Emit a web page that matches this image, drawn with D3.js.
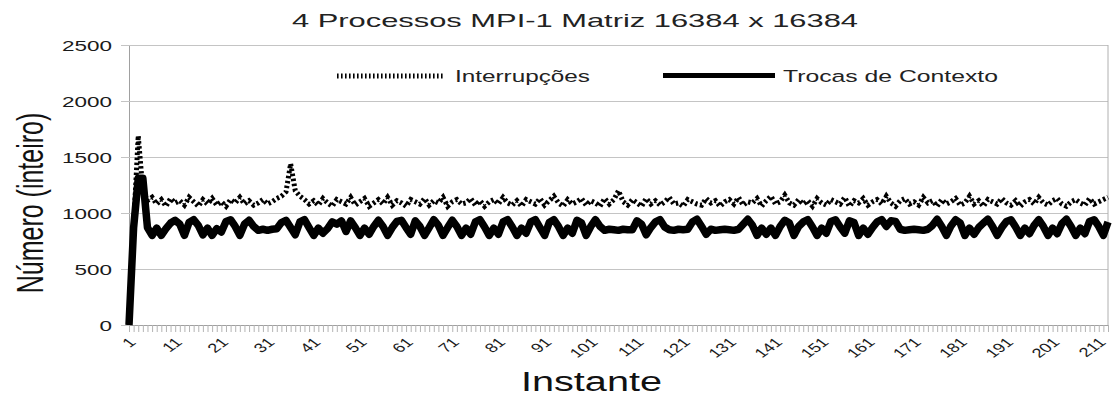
<!DOCTYPE html>
<html>
<head>
<meta charset="utf-8">
<script src="https://cdn.jsdelivr.net/npm/d3@7"></script>
<style>
    body { margin: 0; background: #fff; }
    svg { display: block; font-family: 'Liberation Sans', Arial, sans-serif; }
</style>
</head>
<body>
<svg id="chart" width="1113" height="398"></svg>
<script>
const TITLE = '4 Processos MPI-1 Matriz 16384 x 16384';
const SERIES_NAMES = ['Interrupções', 'Trocas de Contexto'];
const Y_TICKS = [0, 500, 1000, 1500, 2000, 2500];

// instants 1..213
const instants = d3.range(1, 214);

const interrupcoes = [
    0, 880, 1690, 1200, 1110, 1140, 1080, 1120, 1060, 1130,
    1090, 1110, 1070, 1140, 1100, 1060, 1120, 1080, 1130, 1070,
    1100, 1060, 1120, 1090, 1140, 1080, 1110, 1070, 1090, 1120,
    1080, 1100, 1130, 1150, 1190, 1440, 1200, 1150, 1120, 1080,
    1110, 1070, 1130, 1090, 1060, 1120, 1100, 1080, 1140, 1070,
    1100, 1130, 1060, 1090, 1120, 1080, 1140, 1070, 1110, 1090,
    1060, 1120, 1100, 1080, 1130, 1070, 1110, 1090, 1140, 1060,
    1100, 1120, 1080, 1090, 1130, 1070, 1110, 1060, 1100, 1120,
    1080, 1140, 1090, 1070, 1110, 1060, 1120, 1100, 1080, 1130,
    1070, 1110, 1150, 1090, 1060, 1120, 1080, 1100, 1130, 1070,
    1110, 1090, 1060, 1130, 1080, 1120, 1200, 1100, 1070, 1120,
    1090, 1060, 1130, 1080, 1110, 1070, 1100, 1140, 1080, 1090,
    1060, 1120, 1100, 1080, 1070, 1130, 1090, 1110, 1060, 1100,
    1120, 1080, 1140, 1070, 1100, 1090, 1130, 1060, 1110, 1150,
    1080, 1100, 1160, 1090, 1070, 1120, 1080, 1110, 1060, 1130,
    1090, 1070, 1120, 1100, 1080, 1140, 1060, 1110, 1090, 1130,
    1070, 1100, 1120, 1080, 1150, 1090, 1060, 1110, 1130, 1080,
    1100, 1070, 1140, 1090, 1110, 1060, 1120, 1080, 1100, 1130,
    1070, 1090, 1150, 1080, 1110, 1060, 1120, 1100, 1080, 1130,
    1090, 1070, 1110, 1060, 1100, 1120, 1080, 1140, 1090, 1070,
    1110, 1130, 1080, 1060, 1100, 1120, 1090, 1070, 1130, 1080,
    1100, 1120, 1140
];

const trocasContexto = [
    0, 870, 1310, 1310, 870, 800, 865, 800, 860, 910,
    935, 900, 800, 915, 940, 890, 805, 865, 800, 860,
    830, 925, 940, 880, 800, 900, 935, 880, 845, 855,
    845, 855, 860, 915, 935, 870, 805, 920, 940, 870,
    800, 865, 820, 860, 920, 900, 930, 835, 930, 870,
    800, 865, 810, 880, 935, 880, 800, 870, 925, 935,
    870, 810, 930, 880, 800, 870, 940, 890, 800, 870,
    935, 880, 800, 865, 810, 920, 940, 875, 800, 865,
    810, 920, 940, 875, 800, 865, 820, 920, 940, 870,
    800, 915, 940, 880, 800, 865, 820, 935, 910, 800,
    880, 940, 880, 845, 855, 850, 845, 855, 850, 850,
    930, 900, 805, 870, 920, 940, 875, 850, 845, 855,
    850, 855, 920, 945, 880, 810, 855, 845, 850, 855,
    850, 845, 855, 900, 945, 890, 800, 865, 810, 865,
    800, 880, 935, 910, 800, 880, 920, 940, 875, 800,
    865, 820, 925, 940, 875, 820, 930, 915, 800, 865,
    810, 870, 920, 940, 880, 930, 925, 855, 845, 850,
    855, 850, 845, 855, 890, 945, 880, 800, 885, 940,
    910, 800, 865, 810, 870, 910, 945, 880, 800, 870,
    925, 940, 875, 800, 865, 815, 890, 940, 880, 800,
    865, 815, 905, 945, 880, 800, 865, 815, 925, 940,
    880, 800, 920
];

const svg = d3.select('#chart');

const x = d3.scalePoint().domain(instants).range([129, 1108]);
const y = d3.scaleLinear().domain([0, 2500]).range([325, 45]);

// gridlines + y axis
const yAxis = svg.append('g')
    .attr('transform', 'translate(129,0)')
    .call(d3.axisLeft(y).tickValues(Y_TICKS).tickSize(-(1108 - 129)).tickSizeOuter(0).tickPadding(0));
yAxis.select('.domain').attr('stroke', '#a0a0a0');
yAxis.selectAll('.tick line').attr('stroke', '#c4c4c4').attr('x1', -8);
yAxis.selectAll('.tick text').remove();
yAxis.selectAll('.tick').append('text')
    .attr('transform', 'translate(-17,0) scale(1.5,1)')
    .attr('text-anchor', 'end')
    .attr('dy', '0.36em')
    .attr('fill', '#1a1a1a')
    .style('font-size', '15px')
    .text(d => d);

// right border
svg.append('line')
    .attr('x1', 1108).attr('x2', 1108)
    .attr('y1', 45).attr('y2', 325)
    .attr('stroke', '#b0b0b0');

// x axis
const xAxis = svg.append('g')
    .attr('transform', 'translate(0,325)')
    .call(d3.axisBottom(x).tickSize(7).tickSizeOuter(0)
        .tickFormat(d => (d - 1) % 10 === 0 ? d : ''));
xAxis.select('.domain').attr('stroke', '#a0a0a0');
xAxis.selectAll('.tick line').attr('stroke', '#b4b4b4');
xAxis.selectAll('.tick text')
    .attr('x', null).attr('y', null).attr('dy', '0.35em')
    .attr('transform', 'translate(3,15) scale(1.4,1) rotate(-45)')
    .attr('text-anchor', 'end')
    .attr('fill', '#1a1a1a')
    .style('font-size', '13px');

// series
const line = d3.line()
    .x((d, i) => x(instants[i]))
    .y(d => y(d));

svg.append('path')
    .datum(interrupcoes)
    .attr('d', line)
    .attr('fill', 'none')
    .attr('stroke', '#000')
    .attr('stroke-width', 5)
    .attr('stroke-dasharray', '2.5,2.5');

svg.append('path')
    .datum(trocasContexto)
    .attr('d', line)
    .attr('fill', 'none')
    .attr('stroke', '#000')
    .attr('stroke-width', 7.5)
    .attr('stroke-linejoin', 'round');

// title
svg.append('text')
    .attr('x', 292).attr('y', 27)
    .attr('textLength', 566).attr('lengthAdjust', 'spacingAndGlyphs')
    .attr('fill', '#222')
    .style('font-size', '18.6px')
    .text(TITLE);

// legend
const legend = svg.append('g');
legend.append('line')
    .attr('x1', 337).attr('x2', 445).attr('y1', 76).attr('y2', 76)
    .attr('stroke', '#000').attr('stroke-width', 5)
    .attr('stroke-dasharray', '1.6,2.4');
legend.append('text')
    .attr('x', 455).attr('y', 82)
    .attr('textLength', 135).attr('lengthAdjust', 'spacingAndGlyphs')
    .attr('fill', '#222')
    .style('font-size', '16.3px')
    .text(SERIES_NAMES[0]);
legend.append('line')
    .attr('x1', 663).attr('x2', 775).attr('y1', 75.5).attr('y2', 75.5)
    .attr('stroke', '#000').attr('stroke-width', 5);
legend.append('text')
    .attr('x', 783).attr('y', 82)
    .attr('textLength', 215).attr('lengthAdjust', 'spacingAndGlyphs')
    .attr('fill', '#222')
    .style('font-size', '16.3px')
    .text(SERIES_NAMES[1]);

// axis titles
svg.append('text')
    .attr('x', 521).attr('y', 391)
    .attr('textLength', 141).attr('lengthAdjust', 'spacingAndGlyphs')
    .attr('fill', '#111')
    .style('font-size', '27px')
    .text('Instante');

svg.append('text')
    .attr('transform', 'translate(30,203) scale(1.5,1) rotate(-90)')
    .attr('text-anchor', 'middle')
    .attr('dy', '0.35em')
    .attr('fill', '#111')
    .style('font-size', '25px')
    .text('Número (inteiro)');
</script>
</body>
</html>
